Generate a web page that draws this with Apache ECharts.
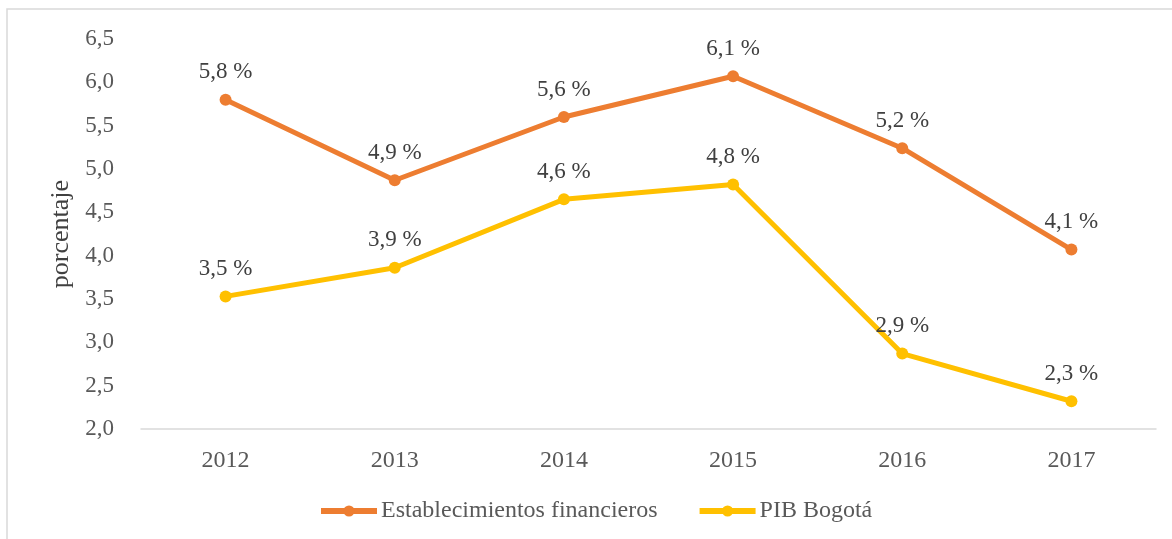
<!DOCTYPE html>
<html><head><meta charset="utf-8">
<script src="https://cdn.jsdelivr.net/npm/echarts@6/dist/echarts.min.js"></script>
<style>html,body{margin:0;padding:0;background:#fff}#c{width:1172px;height:539px}</style>
</head><body><div id="c"></div>
<script>
const years = ['2012','2013','2014','2015','2016','2017'];
const finValues = [5.80, 4.87, 5.60, 6.07, 5.24, 4.07];
const finLabels = ['5,8 %','4,9 %','5,6 %','6,1 %','5,2 %','4,1 %'];
const pibValues = [3.53, 3.86, 4.65, 4.82, 2.87, 2.32];
const pibLabels = ['3,5 %','3,9 %','4,6 %','4,8 %','2,9 %','2,3 %'];
const seriesNames = ['Establecimientos financieros','PIB Bogotá'];
const yTicks = [2.0,2.5,3.0,3.5,4.0,4.5,5.0,5.5,6.0,6.5];

const font = 'Liberation Serif';
const chart = echarts.init(document.getElementById('c'));
function mk(name, vals, labels, color){
  return {
    name, type:'line', data: vals, symbol:'circle', symbolSize:12,
    lineStyle:{width:5,color}, itemStyle:{color},
    label:{show:true, position:'top', distance:10, fontFamily:font, fontSize:23, color:'#404040',
      formatter: p => labels[p.dataIndex]},
    z: 3
  };
}
chart.setOption({
  animation:false,
  graphic:[{type:'rect', shape:{x:7,y:9,width:1200,height:600}, style:{fill:'none',stroke:'#d9d9d9',lineWidth:1.5}, z:-1}],
  grid:{left:141,right:16,top:39,bottom:110},
  legend:{top:494,left:313,itemWidth:56,itemHeight:14,itemGap:39,
    lineStyle:{width:6},
    textStyle:{fontFamily:font,fontSize:24,color:'#595959',padding:[0,0,0,-1]},
    data: seriesNames},
  xAxis:{type:'category',data:years,boundaryGap:true,
    axisLine:{lineStyle:{color:'#d9d9d9',width:1.5}},axisTick:{show:false},
    axisLabel:{fontFamily:font,fontSize:24,color:'#595959',margin:20}},
  yAxis:{type:'value',min:2,max:6.5,interval:0.5,
    name:'porcentaje',nameLocation:'middle',nameGap:66,nameRotate:90,
    nameTextStyle:{fontFamily:font,fontSize:26,color:'#404040'},
    axisLine:{show:false},axisTick:{show:false},splitLine:{show:false},
    axisLabel:{fontFamily:font,fontSize:23,color:'#595959',margin:27,
      formatter: v => { const t = yTicks.find(x=>Math.abs(x-v)<1e-9); return (t!==undefined?t:v).toFixed(1).replace('.',','); }}},
  series:[mk(seriesNames[0],finValues,finLabels,'#ed7d31'), mk(seriesNames[1],pibValues,pibLabels,'#ffc000')]
});
</script></body></html>
